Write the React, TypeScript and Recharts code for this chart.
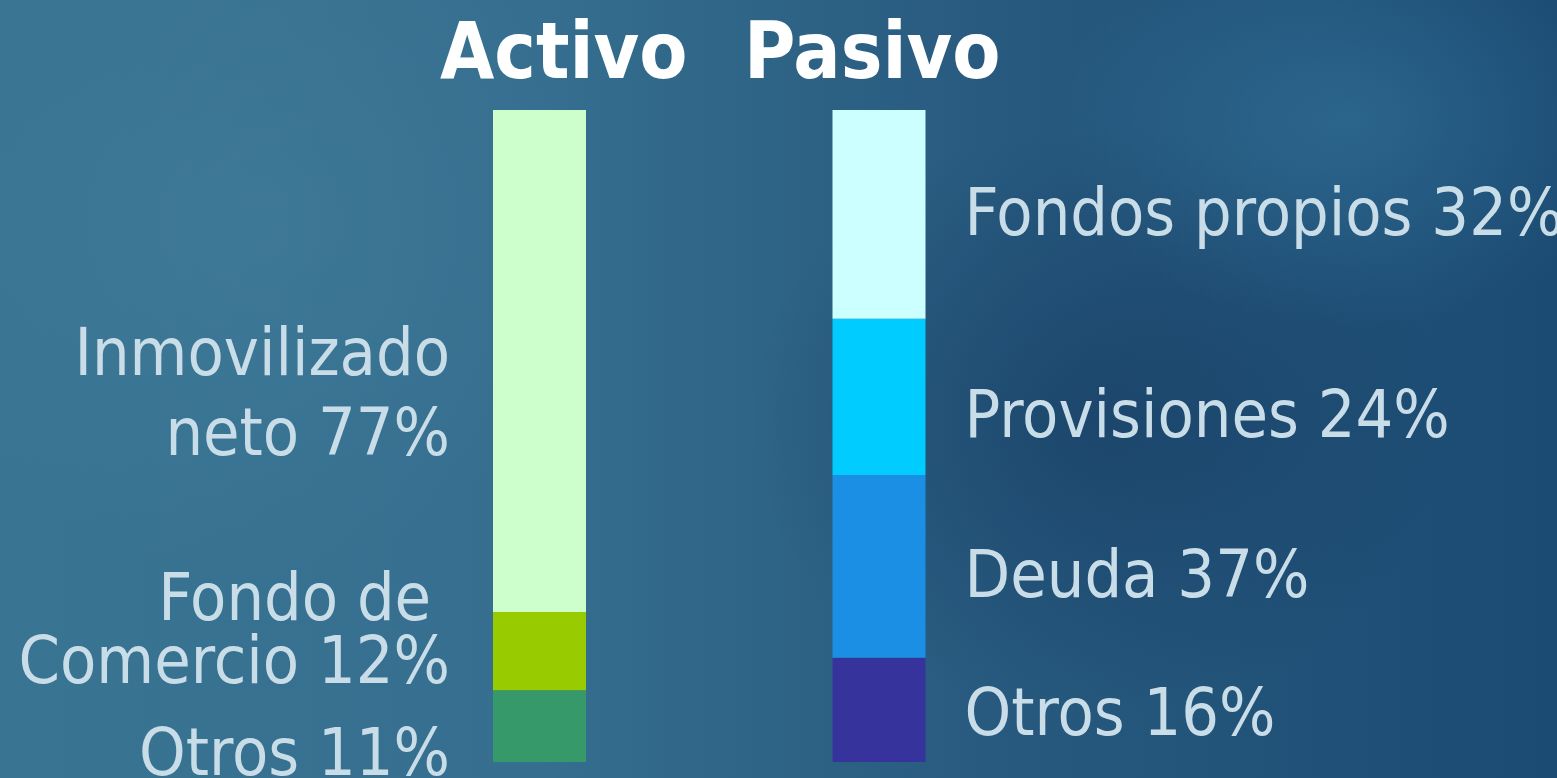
import { BarChart, Bar, XAxis, YAxis, LabelList } from "recharts"

const categories = ["Activo", "Pasivo"]

// segment shares, bottom to top, as drawn in the bars
const activoValues = [11, 12, 77]
const pasivoValues = [16, 28, 24, 32]

const activoLabels = [["Otros 11%"], ["Fondo de\u00A0", "Comercio 12%"], ["Inmovilizado", "neto 77%"]]
const pasivoLabels = [["Otros 16%"], ["Deuda 37%"], ["Provisiones 24%"], ["Fondos propios 32%"]]

const activoColors = ["#36996a", "#99cc00", "#ccffcc"]
const pasivoColors = ["#36349c", "#1a8fe3", "#00ccff", "#ccffff"]

// label placement tweaks (baseline offset from segment middle, line gap)
const ACTIVO_DY = [49, -31, 14]
const ACTIVO_GAP = [0, 63, 80]
const PASIVO_DY = [25, 31, 40, 21]
const TITLE_DX = [24, -7]

const LABEL_COLOR = "#c9dde8"
const FONT = "'DejaVu Sans Condensed', 'Liberation Sans', Arial, sans-serif"

const data = categories.map((name, i) => {
  const row: Record<string, any> = { name }
  activoValues.forEach((v, j) => { row["a" + j] = i === 0 ? v : 0 })
  pasivoValues.forEach((v, j) => { row["p" + j] = i === 1 ? v : 0 })
  return row
})

function segmentLabel(side: "a" | "p", seg: number) {
  return (props: any) => {
    const vb = props.viewBox ?? props
    const x = Number(vb.x ?? props.x)
    const y = Number(vb.y ?? props.y)
    const w = Number(vb.width ?? props.width)
    const h = Number(vb.height ?? props.height)
    if (!props.value || !h) return null
    const mid = Math.min(y, y + h) + Math.abs(h) / 2
    if (side === "a") {
      const lines = activoLabels[seg]
      const base = mid + ACTIVO_DY[seg]
      return (
        <text x={x - 43} textAnchor="end" fill={LABEL_COLOR} fontSize={66} fontFamily={FONT}>
          {lines.map((l, k) => (
            <tspan key={k} x={x - 43} y={base + (k > 0 ? ACTIVO_GAP[seg] : 0)}>{l}</tspan>
          ))}
        </text>
      )
    }
    return (
      <text x={x + w + 39} y={mid + PASIVO_DY[seg]} textAnchor="start" fill={LABEL_COLOR} fontSize={66} fontFamily={FONT}>
        {pasivoLabels[seg][0]}
      </text>
    )
  }
}

function TitleTick(props: any) {
  const { x, y, payload, index } = props
  return (
    <text x={x + TITLE_DX[index]} y={y - 32} textAnchor="middle" fill="#ffffff" fontSize={78} fontWeight="bold" fontFamily={FONT}>
      {payload.value}
    </text>
  )
}

export default function App() {
  return (
    <div
      style={{
        position: "fixed",
        inset: 0,
        overflow: "hidden",
        background:
          "radial-gradient(ellipse 420px 300px at 1350px 120px, rgba(70,150,190,0.3), rgba(70,150,190,0) 70%)," +
          "radial-gradient(ellipse 500px 420px at 1100px 420px, rgba(15,45,85,0.4), rgba(15,45,85,0) 70%)," +
          "radial-gradient(ellipse 500px 500px at 250px 220px, rgba(80,140,170,0.25), rgba(80,140,170,0) 70%)," +
          "linear-gradient(90deg, #3a7493 0%, #356e8e 35%, #27597e 65%, #1b4a72 100%)",
      }}
    >
      <BarChart
        width={1557}
        height={778}
        data={data}
        margin={{ top: 0, right: 508, bottom: 16, left: 370 }}
        barSize={93}
      >
        <XAxis
          dataKey="name"
          orientation="top"
          height={110}
          axisLine={false}
          tickLine={false}
          tickSize={0}
          tickMargin={0}
          interval={0}
          tick={<TitleTick />}
        />
        <YAxis hide domain={[0, 100]} />
        {activoValues.map((_, seg) => (
          <Bar key={"a" + seg} dataKey={"a" + seg} stackId="s" fill={activoColors[seg]} isAnimationActive={false}>
            <LabelList dataKey={"a" + seg} content={segmentLabel("a", seg)} />
          </Bar>
        ))}
        {pasivoValues.map((_, seg) => (
          <Bar key={"p" + seg} dataKey={"p" + seg} stackId="s" fill={pasivoColors[seg]} isAnimationActive={false}>
            <LabelList dataKey={"p" + seg} content={segmentLabel("p", seg)} />
          </Bar>
        ))}
      </BarChart>
    </div>
  )
}
